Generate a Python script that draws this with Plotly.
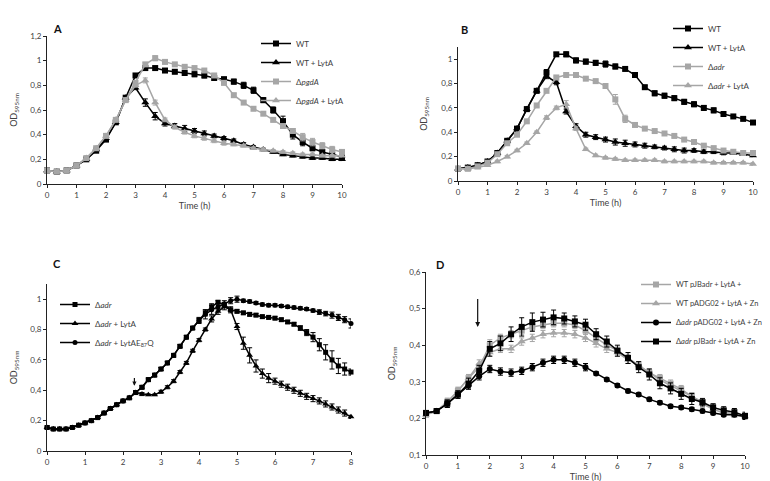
import plotly.graph_objects as go

BLACK = "#000000"
GRAY = "#a6a6a6"

# ---------------- Panel A (time every 20 min, 0-10 h) ----------------
t10 = [0, 0.333, 0.667, 1, 1.333, 1.667, 2, 2.333, 2.667, 3, 3.333, 3.667, 4, 4.333, 4.667, 5,
       5.333, 5.667, 6, 6.333, 6.667, 7, 7.333, 7.667, 8, 8.333, 8.667, 9, 9.333, 9.667, 10]

A_wt = [0.11, 0.10, 0.11, 0.15, 0.20, 0.27, 0.36, 0.50, 0.70, 0.88, 0.94, 0.94, 0.92, 0.91, 0.90, 0.89,
        0.88, 0.86, 0.85, 0.83, 0.80, 0.76, 0.68, 0.60, 0.51, 0.40, 0.34, 0.29, 0.26, 0.24, 0.22]
A_wt_err = [0.005, 0.005, 0.005, 0.005, 0.01, 0.01, 0.01, 0.01, 0.015, 0.015, 0.015, 0.015, 0.015, 0.015, 0.015, 0.02,
            0.02, 0.02, 0.015, 0.02, 0.025, 0.025, 0.02, 0.025, 0.04, 0.035, 0.03, 0.02, 0.02, 0.02, 0.015]
A_wtl = [0.11, 0.10, 0.11, 0.15, 0.20, 0.28, 0.37, 0.50, 0.70, 0.78, 0.66, 0.55, 0.49, 0.47, 0.45, 0.43,
         0.41, 0.39, 0.37, 0.35, 0.32, 0.30, 0.28, 0.26, 0.24, 0.23, 0.22, 0.21, 0.21, 0.20, 0.20]
A_wtl_err = [0.005, 0.005, 0.005, 0.005, 0.01, 0.01, 0.01, 0.01, 0.015, 0.015, 0.03, 0.03, 0.02, 0.02, 0.025, 0.02,
             0.02, 0.015, 0.015, 0.015, 0.015, 0.01, 0.01, 0.01, 0.01, 0.01, 0.01, 0.01, 0.01, 0.01, 0.01]
A_pgd = [0.11, 0.10, 0.11, 0.15, 0.21, 0.29, 0.39, 0.52, 0.68, 0.82, 0.97, 1.02, 0.99, 0.97, 0.95, 0.94,
         0.92, 0.88, 0.82, 0.72, 0.66, 0.61, 0.57, 0.52, 0.47, 0.43, 0.38, 0.34, 0.31, 0.28, 0.26]
A_pgd_err = [0.005, 0.005, 0.005, 0.005, 0.01, 0.01, 0.01, 0.01, 0.015, 0.015, 0.015, 0.02, 0.015, 0.01, 0.01, 0.015,
             0.015, 0.015, 0.015, 0.015, 0.01, 0.01, 0.01, 0.015, 0.015, 0.02, 0.03, 0.03, 0.025, 0.025, 0.02]
A_pgdl = [0.11, 0.10, 0.11, 0.15, 0.21, 0.29, 0.39, 0.52, 0.68, 0.80, 0.84, 0.66, 0.52, 0.46, 0.42, 0.39,
          0.37, 0.35, 0.33, 0.32, 0.31, 0.29, 0.28, 0.27, 0.26, 0.25, 0.24, 0.24, 0.23, 0.23, 0.23]
A_pgdl_err = [0.005, 0.005, 0.005, 0.005, 0.01, 0.01, 0.01, 0.01, 0.015, 0.015, 0.02, 0.02, 0.015, 0.015, 0.015, 0.015,
              0.015, 0.015, 0.015, 0.01, 0.01, 0.01, 0.01, 0.01, 0.01, 0.01, 0.01, 0.01, 0.01, 0.01, 0.01]

# ---------------- Panel B ----------------
B_wt = [0.10, 0.11, 0.13, 0.16, 0.23, 0.33, 0.43, 0.59, 0.74, 0.89, 1.04, 1.04, 0.99, 0.98, 0.97, 0.96,
        0.94, 0.92, 0.87, 0.77, 0.72, 0.70, 0.68, 0.65, 0.63, 0.60, 0.58, 0.55, 0.53, 0.51, 0.48]
B_wt_err = [0.005, 0.005, 0.01, 0.01, 0.01, 0.01, 0.01, 0.015, 0.015, 0.025, 0.015, 0.02, 0.02, 0.02, 0.02, 0.025,
            0.02, 0.015, 0.01, 0.015, 0.02, 0.02, 0.02, 0.02, 0.02, 0.02, 0.02, 0.015, 0.01, 0.01, 0.01]
B_wtl = [0.10, 0.11, 0.13, 0.16, 0.23, 0.33, 0.43, 0.59, 0.74, 0.86, 0.81, 0.57, 0.45, 0.38, 0.36, 0.34,
         0.32, 0.31, 0.30, 0.29, 0.28, 0.27, 0.26, 0.25, 0.25, 0.24, 0.24, 0.23, 0.23, 0.22, 0.21]
B_wtl_err = [0.005, 0.005, 0.01, 0.01, 0.01, 0.01, 0.01, 0.015, 0.015, 0.02, 0.02, 0.02, 0.02, 0.02, 0.02, 0.02,
             0.025, 0.025, 0.02, 0.02, 0.015, 0.015, 0.02, 0.02, 0.015, 0.015, 0.015, 0.015, 0.01, 0.01, 0.01]
B_adr = [0.10, 0.10, 0.12, 0.15, 0.22, 0.31, 0.38, 0.49, 0.62, 0.74, 0.85, 0.87, 0.87, 0.84, 0.82, 0.78,
         0.67, 0.51, 0.46, 0.43, 0.41, 0.39, 0.37, 0.34, 0.32, 0.29, 0.27, 0.25, 0.24, 0.23, 0.23]
B_adr_err = [0.005, 0.005, 0.005, 0.005, 0.01, 0.01, 0.01, 0.01, 0.01, 0.01, 0.01, 0.01, 0.01, 0.01, 0.01, 0.01,
             0.04, 0.03, 0.01, 0.01, 0.01, 0.01, 0.01, 0.01, 0.01, 0.01, 0.01, 0.01, 0.01, 0.01, 0.01]
B_adrl = [0.10, 0.10, 0.11, 0.13, 0.16, 0.20, 0.25, 0.31, 0.40, 0.52, 0.60, 0.63, 0.43, 0.26, 0.21, 0.19,
          0.18, 0.17, 0.17, 0.17, 0.17, 0.16, 0.16, 0.16, 0.16, 0.16, 0.15, 0.15, 0.15, 0.15, 0.14]
B_adrl_err = [0.005, 0.005, 0.005, 0.005, 0.01, 0.01, 0.01, 0.01, 0.01, 0.015, 0.015, 0.03, 0.015, 0.01, 0.01, 0.01,
              0.01, 0.01, 0.01, 0.01, 0.01, 0.01, 0.01, 0.01, 0.01, 0.01, 0.01, 0.01, 0.01, 0.01, 0.01]

# ---------------- Panel C (time every 10 min, 0-8 h) ----------------
t8 = [0, 0.167, 0.333, 0.5, 0.667, 0.833, 1, 1.167, 1.333, 1.5, 1.667, 1.833, 2, 2.167, 2.333,
      2.5, 2.667, 2.833, 3, 3.167, 3.333, 3.5, 3.667, 3.833, 4, 4.167, 4.333, 4.5, 4.667, 4.833,
      5, 5.167, 5.333, 5.5, 5.667, 5.833, 6, 6.167, 6.333, 6.5, 6.667, 6.833, 7, 7.167, 7.333,
      7.5, 7.667, 7.833, 8]
C_adr = [0.155, 0.145, 0.145, 0.145, 0.155, 0.17, 0.185, 0.20, 0.22, 0.25, 0.28, 0.305, 0.33, 0.35, 0.385,
         0.42, 0.47, 0.50, 0.54, 0.58, 0.63, 0.69, 0.75, 0.81, 0.86, 0.91, 0.95, 0.98, 0.965, 0.93,
         0.92, 0.91, 0.90, 0.895, 0.885, 0.88, 0.875, 0.865, 0.85, 0.835, 0.81, 0.78, 0.75, 0.70, 0.65,
         0.60, 0.56, 0.54, 0.52]
C_adr_err = [0.01, 0.005, 0.005, 0.005, 0.005, 0.005, 0.005, 0.005, 0.005, 0.005, 0.005, 0.005, 0.005, 0.005, 0.01,
             0.01, 0.01, 0.01, 0.01, 0.01, 0.01, 0.01, 0.01, 0.01, 0.015, 0.02, 0.02, 0.01, 0.01, 0.01,
             0.01, 0.01, 0.01, 0.01, 0.01, 0.01, 0.01, 0.01, 0.01, 0.01, 0.015, 0.02, 0.03, 0.04, 0.05,
             0.06, 0.05, 0.04, 0.02]
C_lyt = [0.155, 0.145, 0.145, 0.145, 0.155, 0.17, 0.185, 0.20, 0.22, 0.25, 0.28, 0.305, 0.33, 0.35, 0.385,
         0.375, 0.37, 0.37, 0.39, 0.42, 0.46, 0.52, 0.58, 0.66, 0.73, 0.80, 0.87, 0.92, 0.95, 0.93,
         0.82, 0.71, 0.63, 0.56, 0.51, 0.48, 0.46, 0.44, 0.42, 0.40, 0.38, 0.36, 0.345, 0.33, 0.31,
         0.29, 0.27, 0.25, 0.225]
C_lyt_err = [0.01, 0.005, 0.005, 0.005, 0.005, 0.005, 0.005, 0.005, 0.005, 0.005, 0.005, 0.005, 0.005, 0.005, 0.01,
             0.01, 0.005, 0.005, 0.01, 0.01, 0.01, 0.01, 0.01, 0.01, 0.01, 0.01, 0.02, 0.02, 0.02, 0.02,
             0.02, 0.04, 0.05, 0.04, 0.03, 0.03, 0.02, 0.02, 0.02, 0.02, 0.02, 0.02, 0.02, 0.02, 0.02,
             0.02, 0.02, 0.02, 0.01]
C_e87q = [0.155, 0.145, 0.145, 0.145, 0.155, 0.17, 0.185, 0.20, 0.22, 0.25, 0.28, 0.305, 0.33, 0.35, 0.385,
          0.42, 0.47, 0.50, 0.54, 0.58, 0.63, 0.69, 0.75, 0.81, 0.86, 0.90, 0.93, 0.95, 0.97, 0.99,
          1.00, 0.99, 0.985, 0.975, 0.965, 0.96, 0.96, 0.955, 0.95, 0.945, 0.94, 0.935, 0.925, 0.915, 0.905,
          0.895, 0.88, 0.865, 0.84]
C_e87q_err = [0.01, 0.005, 0.005, 0.005, 0.005, 0.005, 0.005, 0.005, 0.005, 0.005, 0.005, 0.005, 0.005, 0.005, 0.01,
              0.01, 0.01, 0.01, 0.01, 0.01, 0.01, 0.01, 0.01, 0.01, 0.02, 0.03, 0.03, 0.02, 0.02, 0.02,
              0.02, 0.01, 0.01, 0.01, 0.01, 0.01, 0.01, 0.01, 0.01, 0.01, 0.01, 0.01, 0.01, 0.015, 0.015,
              0.02, 0.02, 0.02, 0.03]

# ---------------- Panel D ----------------
D_wtjb = [0.21, 0.22, 0.245, 0.275, 0.31, 0.34, 0.40, 0.42, 0.43, 0.44, 0.45, 0.455, 0.46, 0.46, 0.455, 0.44,
          0.42, 0.40, 0.385, 0.365, 0.345, 0.325, 0.31, 0.295, 0.28, 0.26, 0.245, 0.23, 0.22, 0.21, 0.205]
D_wtjb_err = [0.005, 0.005, 0.01, 0.01, 0.01, 0.01, 0.015, 0.01, 0.01, 0.01, 0.01, 0.01, 0.01, 0.01, 0.01, 0.01,
              0.01, 0.01, 0.01, 0.01, 0.01, 0.01, 0.01, 0.01, 0.01, 0.01, 0.01, 0.01, 0.005, 0.005, 0.005]
D_wtadg = [0.21, 0.22, 0.245, 0.275, 0.31, 0.35, 0.38, 0.39, 0.39, 0.41, 0.42, 0.43, 0.433, 0.433, 0.43, 0.42,
           0.405, 0.39, 0.38, 0.36, 0.345, 0.325, 0.305, 0.29, 0.275, 0.26, 0.24, 0.225, 0.215, 0.21, 0.205]
D_wtadg_err = [0.005, 0.005, 0.01, 0.01, 0.01, 0.01, 0.01, 0.01, 0.01, 0.01, 0.01, 0.01, 0.01, 0.01, 0.01, 0.01,
               0.01, 0.01, 0.01, 0.01, 0.01, 0.01, 0.01, 0.01, 0.01, 0.01, 0.01, 0.005, 0.005, 0.005, 0.005]
D_adradg = [0.215, 0.22, 0.24, 0.265, 0.29, 0.315, 0.335, 0.328, 0.325, 0.33, 0.34, 0.352, 0.36, 0.36, 0.352, 0.34,
            0.323, 0.306, 0.29, 0.275, 0.265, 0.252, 0.243, 0.233, 0.23, 0.225, 0.22, 0.215, 0.21, 0.21, 0.205]
D_adradg_err = [0.005, 0.005, 0.01, 0.01, 0.01, 0.01, 0.01, 0.01, 0.01, 0.01, 0.01, 0.01, 0.01, 0.01, 0.01, 0.01,
                0.005, 0.005, 0.005, 0.005, 0.005, 0.005, 0.005, 0.005, 0.005, 0.005, 0.005, 0.005, 0.005, 0.005, 0.005]
D_adrjb = [0.215, 0.22, 0.24, 0.265, 0.295, 0.33, 0.39, 0.405, 0.43, 0.45, 0.463, 0.47, 0.476, 0.473, 0.465, 0.456,
           0.43, 0.41, 0.385, 0.365, 0.34, 0.32, 0.296, 0.282, 0.267, 0.253, 0.244, 0.23, 0.222, 0.217, 0.207]
D_adrjb_err = [0.005, 0.005, 0.01, 0.01, 0.015, 0.015, 0.02, 0.02, 0.02, 0.025, 0.025, 0.02, 0.02, 0.015, 0.015, 0.015,
               0.015, 0.015, 0.015, 0.015, 0.015, 0.015, 0.015, 0.015, 0.015, 0.015, 0.01, 0.01, 0.01, 0.01, 0.01]

FONT = "Lato, 'Open Sans', sans-serif"
TXT = "#404040"

fig = go.Figure()


def add(ax, legend, x, y, err, name, color, symbol, size):
    fig.add_trace(go.Scatter(
        x=x, y=y, name=name, mode="lines+markers",
        xaxis="x" + ax, yaxis="y" + ax, legend=legend, cliponaxis=False,
        line=dict(color=color, width=1.5),
        marker=dict(color=color, symbol=symbol, size=size),
        error_y=dict(type="data", array=err, visible=True, color=color, thickness=1, width=2.5),
    ))


add("", "legend", t10, A_wt, A_wt_err, "WT", BLACK, "square", 6)
add("", "legend", t10, A_wtl, A_wtl_err, "WT + LytA", BLACK, "triangle-up", 7)
add("", "legend", t10, A_pgd, A_pgd_err, "Δ<i>pgdA</i>", GRAY, "square", 6)
add("", "legend", t10, A_pgdl, A_pgdl_err, "Δ<i>pgdA</i> + LytA", GRAY, "triangle-up", 7)

add("2", "legend2", t10, B_wt, B_wt_err, "WT", BLACK, "square", 6)
add("2", "legend2", t10, B_wtl, B_wtl_err, "WT + LytA", BLACK, "triangle-up", 7)
add("2", "legend2", t10, B_adr, B_adr_err, "Δ<i>adr</i>", GRAY, "square", 6)
add("2", "legend2", t10, B_adrl, B_adrl_err, "Δ<i>adr</i> + LytA", GRAY, "triangle-up", 7)

add("3", "legend3", t8, C_adr, C_adr_err, "Δ<i>adr</i>", BLACK, "square", 5)
add("3", "legend3", t8, C_lyt, C_lyt_err, "Δ<i>adr</i> + LytA", BLACK, "triangle-up", 6)
add("3", "legend3", t8, C_e87q, C_e87q_err, "Δ<i>adr</i> + LytAE<sub>87</sub>Q", BLACK, "circle", 5)

add("4", "legend4", t10, D_wtjb, D_wtjb_err, "WT pJBadr + LytA +", GRAY, "square", 6)
add("4", "legend4", t10, D_wtadg, D_wtadg_err, "WT pADG02 + LytA + Zn", GRAY, "triangle-up", 7)
add("4", "legend4", t10, D_adradg, D_adradg_err, "Δ<i>adr</i> pADG02 + LytA + Zn", BLACK, "circle", 6)
add("4", "legend4", t10, D_adrjb, D_adrjb_err, "Δ<i>adr</i> pJBadr + LytA + Zn", BLACK, "square", 6)

W, H = 770, 481


def px(x):
    return x / W


def py(y):
    return 1 - y / H


axis_common = dict(showline=True, linecolor="#222", linewidth=1, ticks="outside", ticklen=3,
                   tickcolor="#222", showgrid=False, zeroline=False,
                   tickfont=dict(family=FONT, size=8, color=TXT))
title_font = dict(family=FONT, size=9, color=TXT)
od = "OD<sub>595nm</sub>"


def xt(text):
    return dict(text=text, font=title_font, standoff=3)


def yt():
    return dict(text=od, font=title_font, standoff=12)


fig.update_layout(
    width=W, height=H, margin=dict(l=0, r=0, t=0, b=0, autoexpand=False),
    paper_bgcolor="white", plot_bgcolor="white", separators=", ",
    font=dict(family=FONT, size=8, color=TXT),
    xaxis=dict(axis_common, domain=[px(39), px(334)], range=[0, 10], dtick=1, anchor="y",
               title=xt("Time (h)"), automargin=True),
    yaxis=dict(axis_common, domain=[py(176), py(28)], range=[0, 1.2], dtick=0.2, anchor="x",
               title=yt(), automargin=True),
    xaxis2=dict(axis_common, domain=[px(450), px(745)], range=[0, 10], dtick=1, anchor="y2",
                title=xt("Time (h)"), automargin=True),
    yaxis2=dict(axis_common, domain=[py(173), py(39)], range=[0, 1.1], tickvals=[0, 0.2, 0.4, 0.6, 0.8, 1],
                anchor="x2", title=yt(), automargin=True),
    xaxis3=dict(axis_common, domain=[px(39), px(343)], range=[0, 8], dtick=1, anchor="y3"),
    yaxis3=dict(axis_common, domain=[py(443), py(276)], range=[0, 1.1], tickvals=[0, 0.2, 0.4, 0.6, 0.8, 1],
                anchor="x3", title=yt(), automargin=True),
    xaxis4=dict(axis_common, domain=[px(418), px(737)], range=[0, 10], dtick=1, anchor="y4",
                title=xt("Time (h)"), automargin=True),
    yaxis4=dict(axis_common, domain=[py(447), py(264)], range=[0.1, 0.6], dtick=0.1, anchor="x4",
                title=yt(), automargin=True),
)

leg = dict(bgcolor="rgba(0,0,0,0)", font=dict(family=FONT, size=8, color=TXT),
           xanchor="left", yanchor="top", tracegroupgap=0, itemwidth=30)
fig.update_layout(
    legend=dict(leg, x=px(248), y=py(21)),
    legend2=dict(leg, x=px(660), y=py(6)),
    legend3=dict(leg, x=px(47), y=py(282)),
    legend4=dict(leg, x=px(628), y=py(262), font=dict(family=FONT, size=7.5, color=TXT)),
)

for letter, x, y in [("A", 43, 12), ("B", 456, 13), ("C", 43, 255), ("D", 432, 256)]:
    fig.add_annotation(text="<b>%s</b>" % letter, xref="paper", yref="paper", x=px(x), y=py(y),
                       showarrow=False, font=dict(family=FONT, size=11, color="#111"))

# arrows marking LytA addition
fig.add_annotation(xref="x3", yref="y3", axref="x3", ayref="y3", x=2.3, y=0.43, ax=2.3, ay=0.49,
                   text="", showarrow=True, arrowhead=2, arrowsize=0.7, arrowwidth=1.2, arrowcolor="#111")
fig.add_annotation(xref="x4", yref="y4", axref="x4", ayref="y4", x=1.62, y=0.45, ax=1.62, ay=0.53,
                   text="", showarrow=True, arrowhead=2, arrowsize=0.8, arrowwidth=1.2, arrowcolor="#111")

fig.write_html("out.html")
